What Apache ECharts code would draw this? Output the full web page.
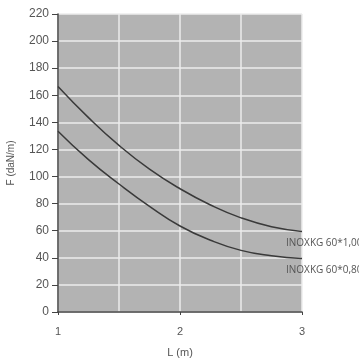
<!DOCTYPE html>
<html><head><meta charset="utf-8">
<script src="https://cdn.jsdelivr.net/npm/echarts@6/dist/echarts.min.js"></script>
<style>html,body{margin:0;padding:0;background:#fff}#c{width:359px;height:360px}</style>
</head><body><div id="c"></div>
<script>
const L = [1, 1.25, 1.5, 1.75, 2, 2.25, 2.5, 2.75, 3];
const F_100 = [166.5, 143.5, 123, 105.5, 91, 79, 69.5, 63, 59.5];
const F_080 = [133.5, 112.5, 94.5, 78, 63.5, 53, 45.5, 41.5, 39.5];
const seriesNames = ['INOXKG 60*1,00', 'INOXKG 60*0,80'];
const yTicks = [0, 20, 40, 60, 80, 100, 120, 140, 160, 180, 200, 220];

const chart = echarts.init(document.getElementById('c'));
const mk = (name, vals) => ({
  type: 'line', name, smooth: 0.5, showSymbol: false,
  data: L.map((x, i) => [x, vals[i]]),
  lineStyle: { color: '#3a3a3a', width: 1.5 },
  endLabel: { show: true, formatter: name, color: '#555', fontSize: 10, fontFamily: 'Open Sans', align: 'left', offset: [-24, 12] }
});
chart.setOption({
  animation: false,
  backgroundColor: '#fff',
  grid: { left: 58, right: 57, top: 14, bottom: 48, show: true, backgroundColor: '#b3b3b3', borderWidth: 0, containLabel: false, outerBoundsMode: 'none' },
  xAxis: {
    type: 'value', min: 1, max: 3, interval: 1,
    name: 'L (m)', nameLocation: 'middle', nameGap: 35,
    nameTextStyle: { color: '#555', fontSize: 11, fontFamily: 'Liberation Sans' },
    axisLine: { show: true, lineStyle: { color: '#444', width: 1.5 } },
    axisTick: { show: true, length: 3, lineStyle: { color: '#444' } },
    axisLabel: { color: '#555', fontSize: 11, fontFamily: 'Liberation Sans', margin: 14 },
    splitLine: { show: true, lineStyle: { color: '#ececec', width: 1.5 } },
    minorTick: { show: false, splitNumber: 2 },
    minorSplitLine: { show: true, lineStyle: { color: '#ececec', width: 1.5 } }
  },
  yAxis: {
    type: 'value', min: yTicks[0], max: yTicks[yTicks.length - 1], interval: 20,
    name: 'F (daN/m)', nameLocation: 'middle', nameGap: 42,
    nameTextStyle: { color: '#555', fontSize: 10, fontFamily: 'Liberation Sans' },
    axisLine: { show: true, lineStyle: { color: '#444', width: 1.5 } },
    axisTick: { show: true, length: 6, lineStyle: { color: '#444' } },
    axisLabel: { color: '#555', fontSize: 12, fontFamily: 'Liberation Sans', margin: 9 },
    splitLine: { show: true, lineStyle: { color: '#ececec', width: 1.5 } }
  },
  series: [mk(seriesNames[0], F_100), mk(seriesNames[1], F_080)]
});
</script></body></html>
